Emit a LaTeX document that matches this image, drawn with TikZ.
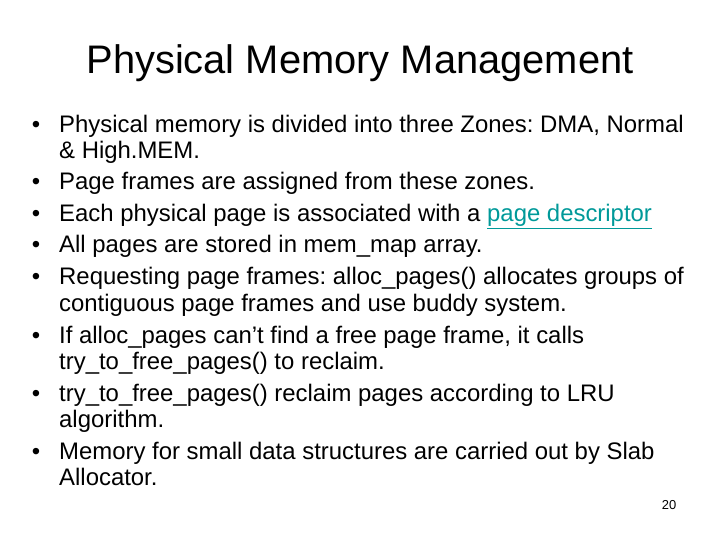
\documentclass[tikz,border=0pt]{standalone}
\usepackage{fontspec}
\setmainfont{Liberation Sans}
\definecolor{linkc}{RGB}{0,153,153}
\frenchspacing
\begin{document}
\begin{tikzpicture}[x=1bp,y=-1bp,
  ln/.style={anchor=base west,inner sep=0pt,font=\fontsize{24}{26}\selectfont},
  bul/.style={anchor=base,inner sep=0pt,font=\fontsize{24}{26}\selectfont}]
\useasboundingbox (0,0) rectangle (720,540);
\node[anchor=base,inner sep=0pt,font=\fontsize{40}{44}\selectfont] (title) at (360,74) {Physical Memory Management};
\foreach \y/\n in {133/b1,190/b2,222/b3,253/b4,285/b5,343/b6,401/b7,459/b8}
  \node[bul] (\n) at (36,\y) {•};
\node[ln] (l1) at (59,133) {Physical memory is divided into three Zones: DMA, Normal};
\node[ln] (l2) at (59,159) {\& High.MEM.};
\node[ln] (l3) at (59,190) {Page frames are assigned from these zones.};
\node[ln] (l4) at (59,222) {Each physical page is associated with a \textcolor{linkc}{\underline{page descriptor}}};
\node[ln] (l5) at (59,253) {All pages are stored in mem\_map array.};
\node[ln] (l6) at (59,285) {Requesting page frames: alloc\_pages() allocates groups of};
\node[ln] (l7) at (59,311) {contiguous page frames and use buddy system.};
\node[ln] (l8) at (59,343) {If alloc\_pages can’t find a free page frame, it calls};
\node[ln] (l9) at (59,369) {try\_to\_free\_pages() to reclaim.};
\node[ln] (l10) at (59,401) {try\_to\_free\_pages() reclaim pages according to LRU};
\node[ln] (l11) at (59,427) {algorithm.};
\node[ln] (l12) at (59,459) {Memory for small data structures are carried out by Slab};
\node[ln] (l13) at (59,485) {Allocator.};
\node[anchor=base,inner sep=0pt,font=\fontsize{13}{15}\selectfont] (pg) at (669,509) {20};
\end{tikzpicture}
\end{document}
